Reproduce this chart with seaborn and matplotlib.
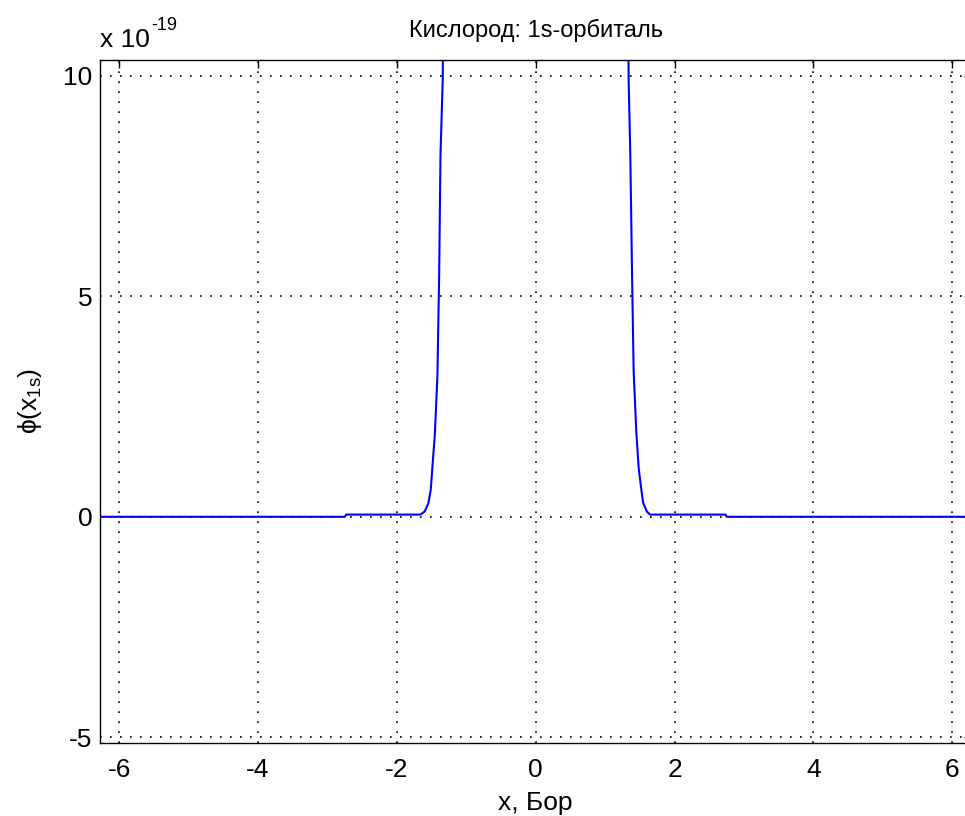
import matplotlib
matplotlib.use("Agg")
import matplotlib.pyplot as plt
from matplotlib import font_manager
import seaborn as sns
import pandas as pd

# Data (y in units of 1e-19)
x_vals = [-6.283, -2.75, -2.73, -1.66, -1.60, -1.546, -1.512, -1.488, -1.454, -1.416,
          -1.391, -1.372, -1.340, -1.32, 0.0, 1.32, 1.338, 1.362, 1.387, 1.410,
          1.449, 1.483, 1.522, 1.546, 1.60, 1.645, 2.73, 2.75, 6.283]
y_vals = [0.0, 0.0, 0.05, 0.05, 0.12, 0.31, 0.62, 1.14, 1.85, 3.2,
          5.5, 8.2, 9.9, 14.0, 60.0, 14.0, 9.9, 8.2, 5.5, 3.3,
          1.9, 1.1, 0.6, 0.32, 0.12, 0.05, 0.05, 0.0, 0.0]
x_ticks = [-6, -4, -2, 0, 2, 4, 6]
y_ticks = [-5, 0, 5, 10]
title = "Кислород: 1s-орбиталь"
xlabel = "x, Бор"
ylabel = r"$\phi(x_{1s})$"
exp_base = "x 10"
exp_power = "-19"

names = {f.name for f in font_manager.fontManager.ttflist}
main_font = "Liberation Sans Narrow" if "Liberation Sans Narrow" in names else "Liberation Sans"

sns.set_style("white")
plt.rcParams['font.family'] = [main_font, 'DejaVu Sans']
plt.rcParams['axes.unicode_minus'] = False
plt.rcParams['mathtext.fontset'] = 'custom'
plt.rcParams['mathtext.rm'] = main_font
plt.rcParams['mathtext.it'] = main_font
plt.rcParams['mathtext.bf'] = main_font

W, H = 965, 816
fig = plt.figure(figsize=(W / 100, H / 100), dpi=100)
left_px, right_px, top_px, bot_px = 99.5, 972.0, 59.5, 743.0
ax = fig.add_axes([left_px / W, 1 - bot_px / H, (right_px - left_px) / W, (bot_px - top_px) / H])

df = pd.DataFrame({"x": x_vals, "y": y_vals})
sns.lineplot(data=df, x="x", y="y", ax=ax, color="#0000ff", linewidth=1.5,
             sort=False, estimator=None)

ax.set_xlim(-6.283, 6.283)
ax.set_ylim(-5.13, 10.37)
ax.set_xticks(x_ticks)
ax.set_yticks(y_ticks)
ax.set_xticklabels([str(t) for t in x_ticks])
ax.set_yticklabels([str(t) for t in y_ticks])

ax.grid(True, color="black", linestyle=(0, (1, 5)), linewidth=1.2)
for s in ax.spines.values():
    s.set_color("black")
    s.set_linewidth(1.0)

fs = 19
ax.tick_params(axis="both", direction="in", length=6, width=1, color="black",
               top=True, right=True, labelsize=fs, labelcolor="black")
ax.tick_params(axis="x", pad=11)
ax.tick_params(axis="y", pad=5)

ax.set_title(title, fontsize=17, color="black", pad=16)
ax.set_xlabel(xlabel, fontsize=fs, color="black", labelpad=6)
ax.set_ylabel(ylabel, fontsize=fs, color="black", labelpad=14)

fig.text(100 / W, 1 - 47 / H, exp_base, fontsize=fs, color="black",
         ha="left", va="baseline")
fig.text(151 / W, 1 - 30 / H, exp_power, fontsize=13, color="black",
         ha="left", va="baseline")

fig.savefig("out.png", dpi=100, facecolor="white")
